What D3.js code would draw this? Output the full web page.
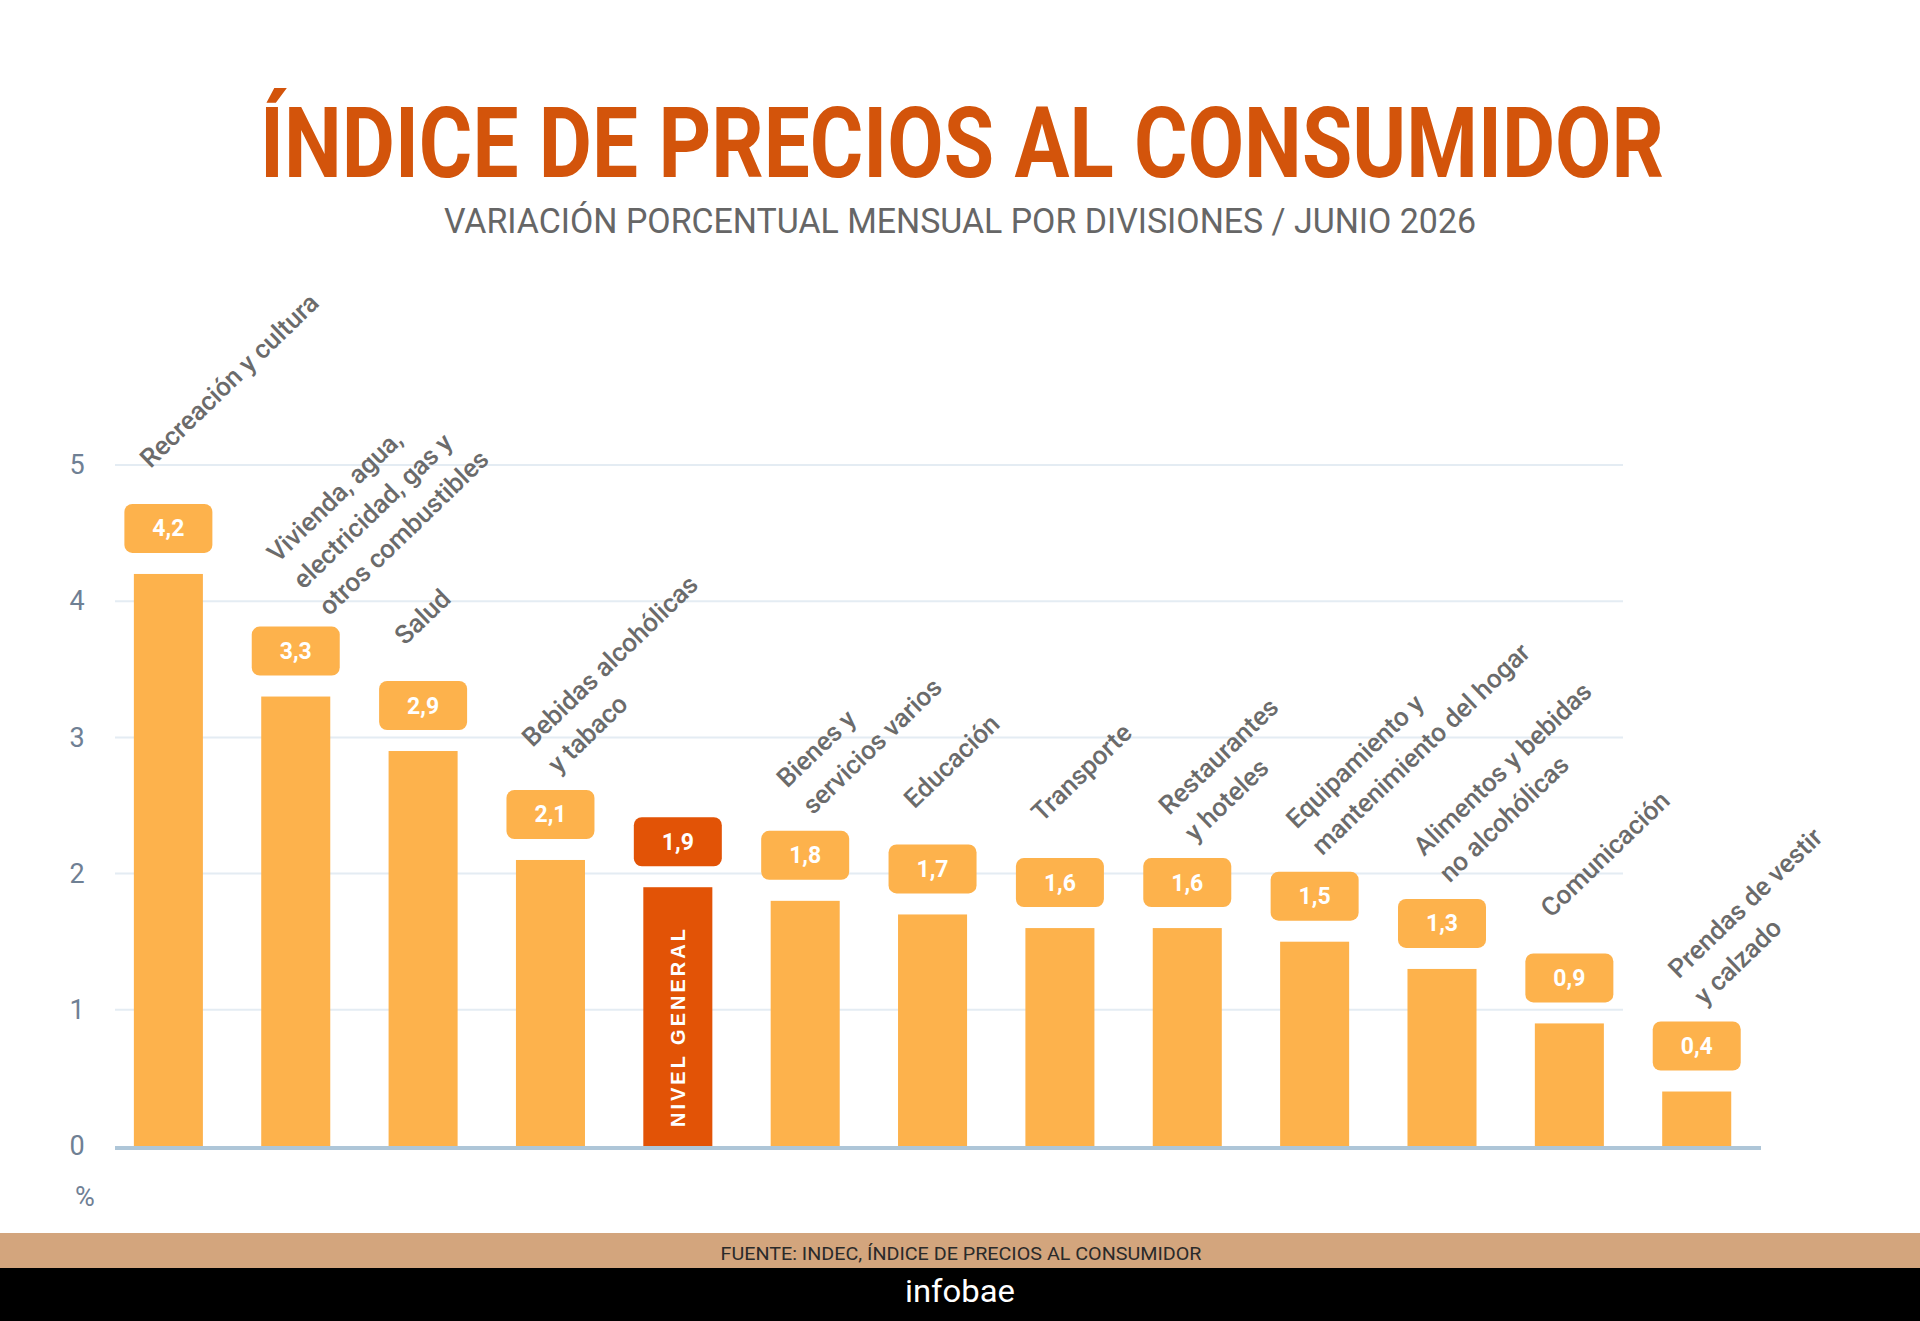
<!DOCTYPE html>
<html lang="es">
<head>
<meta charset="UTF-8">
<title>Índice de precios al consumidor</title>
<script src="https://cdn.jsdelivr.net/npm/d3@7"></script>
<style>
    body { margin: 0; background: #fff; }
    svg { display: block; }
</style>
</head>
<body>
<svg id="chart" width="1920" height="1321"></svg>

<script>
    // datos
    const categorias = [
        ["Recreación y cultura"],
        ["Vivienda, agua,", "electricidad, gas y", "otros combustibles"],
        ["Salud"],
        ["Bebidas alcohólicas", "y tabaco"],
        ["NIVEL GENERAL"],
        ["Bienes y", "servicios varios"],
        ["Educación"],
        ["Transporte"],
        ["Restaurantes", "y hoteles"],
        ["Equipamiento y", "mantenimiento del hogar"],
        ["Alimentos y bebidas", "no alcohólicas"],
        ["Comunicación"],
        ["Prendas de vestir", "y calzado"]
    ];
    const valores = [4.2, 3.3, 2.9, 2.1, 1.9, 1.8, 1.7, 1.6, 1.6, 1.5, 1.3, 0.9, 0.4];
    const general = "NIVEL GENERAL";
    const yTicks = [0, 1, 2, 3, 4, 5];

    const titulo = "ÍNDICE DE PRECIOS AL CONSUMIDOR";
    const subtitulo = "VARIACIÓN PORCENTUAL MENSUAL POR DIVISIONES / JUNIO 2026";
    const fuente = "FUENTE: INDEC, ÍNDICE DE PRECIOS AL CONSUMIDOR";

    const naranja = "#fdb24c",
        naranjaOscuro = "#e25306",
        gris = "#6b6b6b";

    const svg = d3.select("#chart");
    const data = categorias.map((lines, i) => ({ key: lines.join(" "), lines: lines, value: valores[i] }));

    const x = d3.scaleBand()
        .domain(data.map(d => d.key))
        .range([104.7, 1760.4])
        .paddingInner(0.458)
        .paddingOuter(0.229);

    const y = d3.scaleLinear().domain([0, 5]).range([1146, 465]);

    const es = d3.formatLocale({ decimal: ",", thousands: ".", grouping: [3], currency: ["$", ""] });
    const fmt = es.format(".1f");

    // titulos
    svg.append("text")
        .attr("x", 962).attr("y", 177)
        .attr("text-anchor", "middle")
        .attr("textLength", 1404).attr("lengthAdjust", "spacingAndGlyphs")
        .style("font-family", "Roboto, sans-serif").style("font-weight", 700)
        .style("font-size", "98px").style("fill", "#d3540b")
        .text(titulo);

    svg.append("text")
        .attr("x", 960).attr("y", 233)
        .attr("text-anchor", "middle")
        .attr("textLength", 1032).attr("lengthAdjust", "spacingAndGlyphs")
        .style("font-family", "Roboto, sans-serif").style("font-weight", 400)
        .style("font-size", "35px").style("fill", "#666")
        .text(subtitulo);

    // grilla
    svg.append("g")
        .selectAll("line")
        .data(yTicks.filter(t => t > 0))
        .enter().append("line")
        .attr("x1", 115).attr("x2", 1623)
        .attr("y1", d => y(d)).attr("y2", d => y(d))
        .attr("stroke", "#e4ecf3").attr("stroke-width", 2);

    const yAxis = svg.append("g")
        .attr("transform", "translate(77,0)")
        .call(d3.axisLeft(y).tickValues(yTicks).tickSize(0).tickPadding(0).tickFormat(d3.format("d")));
    yAxis.select(".domain").remove();
    yAxis.selectAll("text")
        .attr("text-anchor", "middle")
        .style("font-family", "Roboto, sans-serif")
        .style("font-size", "27px").style("fill", "#6f8094");

    svg.append("text")
        .attr("x", 85).attr("y", 1206)
        .attr("text-anchor", "middle")
        .style("font-family", "Roboto, sans-serif")
        .style("font-size", "27px").style("fill", "#6f8094")
        .text("%");

    // barras
    svg.append("g")
        .selectAll("rect")
        .data(data)
        .enter().append("rect")
        .attr("x", d => x(d.key))
        .attr("y", d => y(d.value))
        .attr("width", x.bandwidth())
        .attr("height", d => y(0) - y(d.value))
        .attr("fill", d => d.key === general ? naranjaOscuro : naranja);

    // eje x
    svg.append("line")
        .attr("x1", 115).attr("x2", 1761)
        .attr("y1", y(0) + 2).attr("y2", y(0) + 2)
        .attr("stroke", "#aec6d8").attr("stroke-width", 4);

    // etiquetas de valor
    const boxW = 88, boxH = 49, gap = 21;
    const etiquetas = svg.append("g")
        .selectAll("g")
        .data(data)
        .enter().append("g")
        .attr("transform", d => `translate(${x(d.key) + x.bandwidth() / 2},${y(d.value) - gap - boxH})`);

    etiquetas.append("rect")
        .attr("x", -boxW / 2).attr("width", boxW).attr("height", boxH)
        .attr("rx", 8)
        .attr("fill", d => d.key === general ? naranjaOscuro : naranja);

    etiquetas.append("text")
        .attr("y", boxH / 2 + 8)
        .attr("text-anchor", "middle")
        .style("font-family", "Roboto, sans-serif").style("font-weight", 700)
        .style("font-size", "23px").style("fill", "#fff")
        .text(d => fmt(d.value));

    // texto dentro de la barra de nivel general
    svg.append("text")
        .attr("transform", `translate(${x(general) + x.bandwidth() / 2},${y(0) - 19}) rotate(-90)`)
        .attr("dy", "0.36em")
        .style("font-family", "'Liberation Sans', Arial, sans-serif").style("font-weight", 700)
        .style("font-size", "20px").style("letter-spacing", "3px").style("fill", "#fff")
        .text(general);

    // nombres de las divisiones, rotados
    const lift = { 1: 35, 2: 42, 3: 63 }; // subida de la primera linea segun cantidad de lineas
    const nombres = svg.append("g")
        .selectAll("text")
        .data(data.filter(d => d.key !== general))
        .enter().append("text")
        .attr("transform", d => {
            const cx = x(d.key) + x.bandwidth() / 2 - 18;
            const cy = y(d.value) - gap - boxH - lift[d.lines.length];
            return `translate(${cx},${cy}) rotate(-44)`;
        })
        .style("font-family", "Roboto, sans-serif").style("font-weight", 500)
        .style("font-size", "26px").style("fill", gris);

    nombres.selectAll("tspan")
        .data(d => d.lines)
        .enter().append("tspan")
        .attr("x", 0)
        .attr("dy", (d, i) => i === 0 ? 0 : 37)
        .text(d => d);

    // pie
    svg.append("rect")
        .attr("x", 0).attr("y", 1233).attr("width", 1920).attr("height", 35)
        .attr("fill", "#d3a57d");
    svg.append("rect")
        .attr("x", 0).attr("y", 1268).attr("width", 1920).attr("height", 53)
        .attr("fill", "#000");

    svg.append("text")
        .attr("x", 961).attr("y", 1260)
        .attr("text-anchor", "middle")
        .attr("textLength", 481).attr("lengthAdjust", "spacingAndGlyphs")
        .style("font-family", "Roboto, sans-serif")
        .style("font-size", "18px").style("fill", "#2a2a2a")
        .text(fuente);

    svg.append("text")
        .attr("x", 960).attr("y", 1302)
        .attr("text-anchor", "middle")
        .attr("textLength", 110).attr("lengthAdjust", "spacingAndGlyphs")
        .style("font-family", "Roboto, sans-serif").style("font-weight", 400)
        .style("font-size", "31px").style("fill", "#fff")
        .text("infobae");
</script>
</body>
</html>
